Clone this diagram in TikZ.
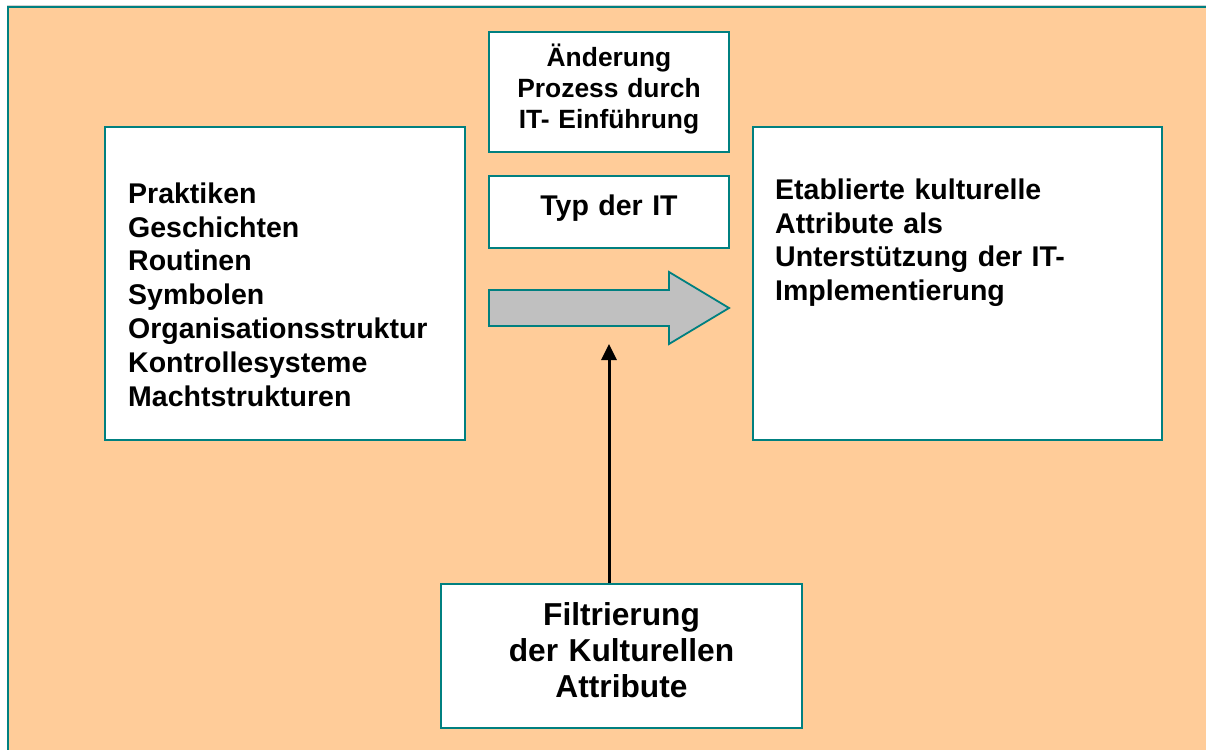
\documentclass[tikz,border=0pt]{standalone}
\usepackage{fontspec}
\setmainfont{Liberation Sans}
\usetikzlibrary{arrows.meta}
\definecolor{peach}{HTML}{FFCC99}
\definecolor{frameteal}{HTML}{008080}
\definecolor{arrowgray}{HTML}{C0C0C0}
\begin{document}
\begin{tikzpicture}[x=1pt,y=-1pt,
  panel/.style={draw=frameteal, line width=2pt, fill=white, inner sep=0pt},
  txt/.style={inner sep=0pt, text=black},
  bigtext/.style={font=\fontsize{28.5}{33.8}\selectfont\bfseries},
  conn/.style={line width=3pt, -{Triangle[width=15pt,length=16pt]}}]
\useasboundingbox (0,0) rectangle (1206,749);
% slide background with its framed edge
\fill[white] (0,0) rectangle (1206,749);
\fill[peach] (8,7) rectangle (1210,753);
\draw[gray!35, line width=1pt] (7,5.2) -- (1206,5.2);
\draw[frameteal, line width=2.6pt] (8,760) -- (8,7) -- (1210,7);

% boxes
\node[panel, minimum width=360pt, minimum height=313pt] (left) at (285,283.5) {};
\node[panel, minimum width=240pt, minimum height=120pt] (change) at (609,92) {};
\node[panel, minimum width=240pt, minimum height=72pt] (ittype) at (609,212) {};
\node[panel, minimum width=409pt, minimum height=313pt] (right) at (957.5,283.5) {};
\node[panel, minimum width=361pt, minimum height=144pt] (filter) at (621.5,656) {};

% texts
\node[txt, bigtext, anchor=base west, text width=330pt, align=left] (lefttext) at (128,203.3)
  {Praktiken\\Geschichten\\Routinen\\Symbolen\\Organisationsstruktur\\Kontrollesysteme\\Machtstrukturen};
\node[txt, bigtext, anchor=base west, text width=380pt, align=left] (righttext) at (775,199.3)
  {Etablierte kulturelle\\Attribute als\\Unterstützung der IT-\\Implementierung};
\node[txt, font=\fontsize{26.4}{30.8}\selectfont\bfseries, anchor=base, text width=236pt, align=center] (changetext) at (609,66.7)
  {Änderung\\Prozess durch\\IT- Einführung};
\node[txt, bigtext, anchor=base, text width=236pt, align=center] (ittypetext) at (609,215)
  {Typ der IT};
\node[txt, font=\fontsize{31.7}{36.3}\selectfont\bfseries, anchor=base, text width=356pt, align=center] (filtertext) at (621.5,625)
  {Filtrierung\\der Kulturellen\\Attribute};

% block arrow between the boxes
\draw[frameteal, fill=arrowgray, line width=1.8pt, line join=miter]
  (489,290) -- (669,290) -- (669,272) -- (729,308) -- (669,344) -- (669,326) -- (489,326) -- cycle;

% upward connector from the filter box
\coordinate (tip) at (609,344);
\draw[conn] (filter.north -| tip) -- (tip);
\end{tikzpicture}
\end{document}
